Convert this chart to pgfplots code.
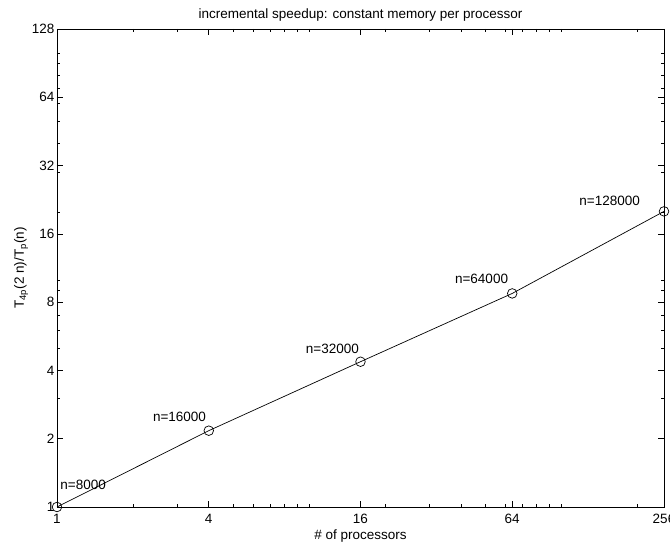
\documentclass[border=0pt]{standalone}
\usepackage{fontspec}
\setmainfont{Liberation Sans}
\usepackage{pgfplots}
\pgfplotsset{compat=1.18}
\begin{document}
\begin{tikzpicture}
\begin{axis}[
    scale only axis,
    width=607pt, height=478pt,
    xmode=log, ymode=log,
    xmin=1, xmax=256, ymin=1, ymax=128,
    xtick={1,4,16,64,256},
    xticklabels={1,4,16,64,256},
    ytick={1,2,4,8,16,32,64,128},
    yticklabels={1,2,4,8,16,32,64,128},
    minor xtick={2,3,5,6,7,8,9,10,20,30,40,50,60,70,80,90,100,200},
    minor ytick={3,5,6,7,9,10,20,30,40,50,60,70,80,90,100},
    tick align=inside,
    major tick length=6pt, minor tick length=3.5pt,
    every tick/.style={black, line width=0.6pt},
    axis line style={line width=0.8pt},
    font=\fontsize{13.5}{15}\selectfont,
    tick label style={font=\fontsize{13.5}{15}\selectfont},
    xticklabel style={yshift=-4pt},
    yticklabel style={xshift=1pt},
    title={incremental speedup: constant memory per processor},
    title style={yshift=-2pt},
    xlabel={\# of processors},
    xlabel style={yshift=1pt},
    ylabel={T\textsubscript{4p}(2 n)/T\textsubscript{p}(n)},
    ylabel style={yshift=-3pt},
    clip=false,
]
\addplot[black, line width=0.7pt, mark=o, mark size=4.8pt, mark options={line width=0.7pt}] coordinates {
    (1,1)
    (4,2.17)
    (16,4.37)
    (64,8.74)
    (256,20.1)
};
\node[anchor=base west, inner sep=0pt] at (axis cs:1.03,1.19) {n=8000};
\node[anchor=base west, inner sep=0pt] at (axis cs:2.40,2.38) {n=16000};
\node[anchor=base west, inner sep=0pt] at (axis cs:9.7,4.75) {n=32000};
\node[anchor=base west, inner sep=0pt] at (axis cs:37.9,9.68) {n=64000};
\node[anchor=base west, inner sep=0pt] at (axis cs:118,21.4) {n=128000};
\coordinate (bl) at ([xshift=-57pt,yshift=-39pt]rel axis cs:0,0);
\coordinate (tr) at ([xshift=6pt,yshift=29pt]rel axis cs:1,1);
\end{axis}
\pgfresetboundingbox
\path[use as bounding box] (bl) rectangle (tr);
\end{tikzpicture}
\end{document}
